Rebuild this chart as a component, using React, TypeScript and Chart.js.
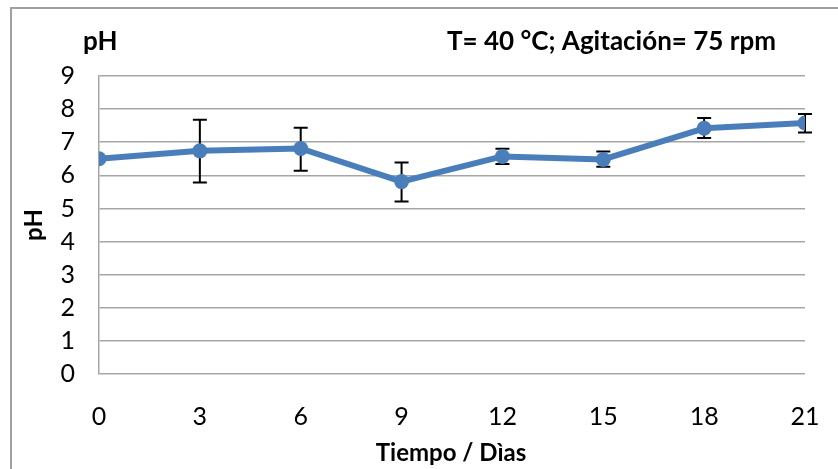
import { useEffect, useRef } from "react";
import { Chart, registerables } from "chart.js";

Chart.register(...registerables);

const days = [0, 3, 6, 9, 12, 15, 18, 21];
const phValues = [6.5, 6.74, 6.81, 5.81, 6.57, 6.48, 7.42, 7.58];
const errHigh = [null, 7.68, 7.44, 6.39, 6.8, 6.72, 7.73, 7.85];
const errLow = [null, 5.78, 6.14, 5.21, 6.34, 6.26, 7.13, 7.29];
const yTicks = [0, 1, 2, 3, 4, 5, 6, 7, 8, 9];
const xTicks = days;

const FONT = "Lato, 'Noto Sans', sans-serif";
const BLUE = "#4a7ebb";
const GRID = "#a6a6a6";

const framePlugin = {
  id: "frame",
  beforeDraw(chart: any) {
    const ctx = chart.ctx;
    ctx.save();
    ctx.fillStyle = "#ffffff";
    ctx.fillRect(0, 0, chart.width, chart.height);
    ctx.strokeStyle = "#a0a0a0";
    ctx.lineWidth = 2;
    ctx.beginPath();
    ctx.moveTo(11, chart.height + 5);
    ctx.lineTo(11, 8);
    ctx.lineTo(chart.width + 5, 8);
    ctx.stroke();
    ctx.restore();
  },
};

const errorBarPlugin = {
  id: "errorBars",
  beforeDatasetsDraw(chart: any) {
    const ctx = chart.ctx;
    const xs = chart.scales.x;
    const ys = chart.scales.y;
    ctx.save();
    ctx.strokeStyle = "#000000";
    ctx.lineWidth = 2;
    days.forEach((d, i) => {
      const hi = errHigh[i];
      const lo = errLow[i];
      if (hi == null || lo == null) return;
      const x = xs.getPixelForValue(d);
      const yh = ys.getPixelForValue(hi);
      const yl = ys.getPixelForValue(lo);
      ctx.beginPath();
      ctx.moveTo(x, yh);
      ctx.lineTo(x, yl);
      ctx.moveTo(x - 7, yh);
      ctx.lineTo(x + 7, yh);
      ctx.moveTo(x - 7, yl);
      ctx.lineTo(x + 7, yl);
      ctx.stroke();
    });
    ctx.restore();
  },
};

const textPlugin = {
  id: "texts",
  afterDraw(chart: any) {
    const ctx = chart.ctx;
    ctx.save();
    ctx.fillStyle = "#000000";
    ctx.font = `bold 26px ${FONT}`;
    ctx.textBaseline = "alphabetic";
    ctx.textAlign = "left";
    ctx.fillText("pH", 83, 50);
    ctx.fillText("T= 40 °C; Agitación= 75 rpm", 447, 50);
    ctx.textAlign = "center";
    ctx.font = `bold 24px ${FONT}`;
    ctx.fillText("Tiempo / Dìas", 451, 461);
    ctx.translate(42, 225);
    ctx.rotate(-Math.PI / 2);
    ctx.fillText("pH", 0, 0);
    ctx.restore();
  },
};

export default function App() {
  const ref = useRef<HTMLCanvasElement>(null);
  useEffect(() => {
    document.body.style.margin = "0";
    const chart = new Chart(ref.current as HTMLCanvasElement, {
      type: "line",
      data: {
        datasets: [
          {
            data: days.map((d, i) => ({ x: d, y: phValues[i] })),
            borderColor: BLUE,
            backgroundColor: BLUE,
            borderWidth: 6,
            borderJoinStyle: "round",
            borderCapStyle: "round",
            pointRadius: 7.5,
            pointBorderWidth: 0,
            pointBackgroundColor: BLUE,
            tension: 0,
          },
        ],
      },
      options: {
        responsive: false,
        animation: false,
        layout: { padding: { left: 0, top: 76, right: 33, bottom: 0 } },
        plugins: { legend: { display: false }, tooltip: { enabled: false }, title: { display: false } },
        scales: {
          x: {
            type: "linear",
            min: 0,
            max: 21,
            afterBuildTicks: (s: any) => {
              s.ticks = xTicks.map((v) => ({ value: v }));
            },
            afterFit: (s: any) => {
              s.height = 95;
              s.paddingLeft = 0;
              s.paddingRight = 0;
            },
            grid: { display: false, drawTicks: false },
            border: { display: false },
            ticks: { color: "#000", font: { family: FONT, size: 25 }, padding: 28, maxRotation: 0, autoSkip: false },
          },
          y: {
            type: "linear",
            min: 0,
            max: 9,
            afterBuildTicks: (s: any) => {
              s.ticks = yTicks.map((v) => ({ value: v }));
            },
            afterFit: (s: any) => {
              s.width = 99;
              s.paddingTop = 0;
              s.paddingBottom = 0;
            },
            grid: { color: GRID, lineWidth: 1.5, drawTicks: false },
            border: { display: true, color: GRID, width: 1.5 },
            ticks: { color: "#000", font: { family: FONT, size: 25 }, padding: 24 },
          },
        },
      },
      plugins: [framePlugin, errorBarPlugin, textPlugin],
    });
    return () => chart.destroy();
  }, []);
  return <canvas ref={ref} width={838} height={469} style={{ display: "block" }} />;
}
